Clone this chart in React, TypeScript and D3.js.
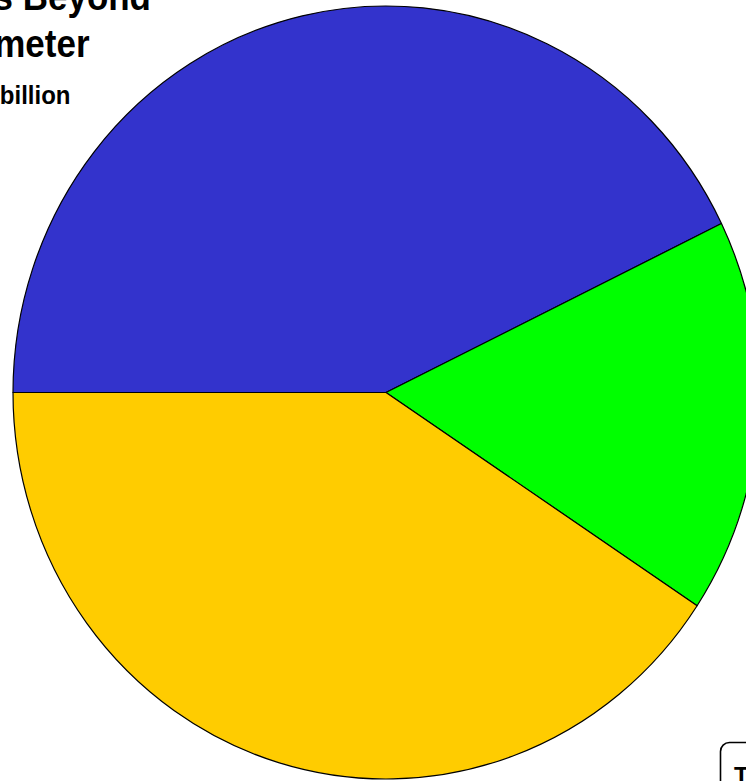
import React from "react";
import * as d3 from "d3";

// Spending split, share of total ($ billion)
const segments = ["Network", "Endpoint", "Cloud"];
const values = [42.8, 16.5, 40.7];
const colors = ["#3333CC", "#00FF00", "#FFCC00"];

const titleLines = ["Security Investments Beyond", "the Perimeter"];
const unitLabel = "$ billion";
const totalLabel = "Total";

const W = 746;
const H = 781;
const cx = 386;
const cy = 392.5;
const rx = 373;
const ry = 386.5;

// Title text is drawn slightly condensed (taller than wide)
function Stretched({
  x,
  y,
  size,
  sy,
  children,
}: {
  x: number;
  y: number;
  size: number;
  sy: number;
  children: React.ReactNode;
}) {
  return (
    <g transform={`translate(${x},${y}) scale(1,${sy})`}>
      <text x={0} y={0} fontSize={size} fontWeight="bold" textAnchor="end" fill="#000">
        {children}
      </text>
    </g>
  );
}

export default function App() {
  const pie = d3
    .pie<number>()
    .sort(null)
    .startAngle(-Math.PI / 2)
    .endAngle((3 * Math.PI) / 2);
  const arcs = pie(values);
  const arc = d3.arc<d3.PieArcDatum<number>>().innerRadius(0).outerRadius(rx);

  return (
    <svg
      width={W}
      height={H}
      style={{ position: "fixed", left: 0, top: 0, background: "#fff" }}
      fontFamily="'Liberation Sans', Arial, sans-serif"
    >
      <g transform={`translate(${cx},${cy}) scale(1,${ry / rx})`}>
        {arcs.map((a, i) => (
          <path
            key={segments[i]}
            d={arc(a) || ""}
            fill={colors[i]}
            stroke="#000"
            strokeWidth={1.2}
            vectorEffect="non-scaling-stroke"
            strokeLinejoin="round"
          />
        ))}
      </g>

      <Stretched x={151} y={10} size={35} sy={1.12}>
        {titleLines[0]}
      </Stretched>
      <Stretched x={89.5} y={57} size={35} sy={1.12}>
        {titleLines[1]}
      </Stretched>
      <Stretched x={70.5} y={103.5} size={24} sy={1.08}>
        {unitLabel}
      </Stretched>

      <rect
        x={720.5}
        y={742.5}
        width={120}
        height={80}
        rx={9}
        fill="#fff"
        stroke="#000"
        strokeWidth={1.6}
      />
      <text x={734} y={784} fontSize={24} fontWeight="bold" fill="#000">
        {totalLabel}
      </text>
    </svg>
  );
}
